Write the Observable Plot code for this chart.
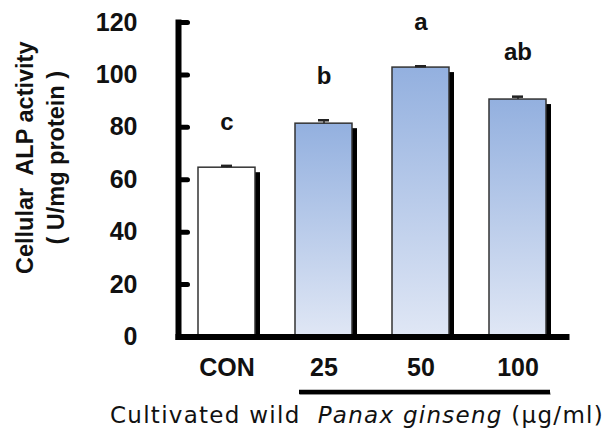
<!DOCTYPE html>
<html><head><meta charset="utf-8">
<script src="https://cdn.jsdelivr.net/npm/d3@7"></script>
<script src="https://cdn.jsdelivr.net/npm/@observablehq/plot@0.6"></script>
<style>
body{margin:0;background:#fff;}
#chart{width:609px;height:435px;position:relative;overflow:hidden;}
#chart svg{display:block;}
.cap{position:absolute;left:110px;top:400px;
 font-family:"DejaVu Sans","Noto Sans",sans-serif;font-size:23px;line-height:30px;color:#111;white-space:nowrap;}
</style></head><body><div id="chart"></div>
<script>
const groups = ["CON", "25", "50", "100"];
const means = [64.6, 81.4, 102.8, 90.6];
const errors = [0.7, 1.3, 0.5, 1.1];
const letters = ["c", "b", "a", "ab"];
const yTicks = [0, 20, 40, 60, 80, 100, 120];
const yLabel = "Cellular  ALP activity\n( U/mg protein )";
const captionPlain = "Cultivated wild\u00a0 ";
const captionItalic = "Panax ginseng";
const captionUnit = " (\u03bcg/ml)";

const data = groups.map((g, i) => ({group: g, mean: means[i], err: errors[i], letter: letters[i], top: means[i] + errors[i]}));
const treated = groups.slice(1);
const font = "'Liberation Sans', Arial, sans-serif";
const ink = "#111";

const tickShape = {draw(ctx, l) { ctx.moveTo(0, 0); ctx.lineTo(0, -l); }};

const plot = Plot.plot({
  width: 609, height: 395,
  marginLeft: 178, marginRight: 43, marginTop: 22, marginBottom: 58.5,
  style: {fontFamily: font, fontSize: "25px", fontWeight: "bold", color: ink, background: "white"},
  x: {domain: groups, paddingInner: 0.41, paddingOuter: 0.2, label: null},
  y: {domain: [0, 120], label: null},
  marks: [
    Plot.barY(data, {x: "group", y: "mean", fill: "black", dx: 5, dy: 5, insetBottom: 5}),
    Plot.barY(data, {filter: d => d.group === groups[0], x: "group", y: "mean", fill: "white", stroke: "#333", strokeWidth: 1.5}),
    Plot.barY(data, {filter: d => d.group !== groups[0], x: "group", y: "mean", fill: "url(#alpGrad)", stroke: "#333", strokeWidth: 1.5}),
    Plot.ruleX(data, {x: "group", y1: "mean", y2: "top", stroke: "#222", strokeWidth: 1.5}),
    Plot.tickY(data, {x: "group", y: "top", stroke: "#222", strokeWidth: 2.5, insetLeft: 23, insetRight: 23}),
    Plot.text(data, {x: "group", y: "top", text: "letter", dy: -44, lineAnchor: "middle", fill: ink, fontSize: 24}),
    Plot.axisY({ticks: yTicks, tickSize: 0, tickPadding: 41, label: null, fill: ink}),
    Plot.axisX({tickSize: 0, tickPadding: 21, label: null, fill: ink}),
    Plot.vector(yTicks, {y: d => d, frameAnchor: "left", rotate: 90, length: 9, anchor: "start", shape: tickShape, stroke: "black", strokeWidth: 5}),
    Plot.frame({anchor: "left", stroke: "black", strokeWidth: 6, strokeLinecap: "square"}),
    Plot.frame({anchor: "bottom", stroke: "black", strokeWidth: 6}),
    Plot.ruleY([0], {x1: () => treated[0], x2: () => treated[treated.length - 1], dy: 57, dx: 5, stroke: "#bbb", strokeWidth: 3}),
    Plot.ruleY([0], {x1: () => treated[0], x2: () => treated[treated.length - 1], dy: 55, dx: 4, stroke: "black", strokeWidth: 4.5}),
    Plot.text([yLabel], {frameAnchor: "left", text: d => d, rotate: -90, textAnchor: "middle", dx: -140, dy: -22, lineAnchor: "middle", lineHeight: 1.32, fill: ink, fontSize: 23.5})
  ]
});

const svg = plot.tagName.toLowerCase() === "svg" ? plot : plot.querySelector("svg");
const defs = d3.select(svg).insert("defs", ":first-child");
const grad = defs.append("linearGradient").attr("id", "alpGrad").attr("x1", 0).attr("y1", 0).attr("x2", 0).attr("y2", 1);
grad.append("stop").attr("offset", 0).attr("stop-color", "#93b0df");
grad.append("stop").attr("offset", 1).attr("stop-color", "#e0e7f5");

const chart = document.getElementById("chart");
chart.appendChild(plot);
const cap = document.createElement("div");
cap.className = "cap";
cap.appendChild(document.createTextNode(captionPlain));
const it = document.createElement("i");
it.textContent = captionItalic;
cap.appendChild(it);
cap.appendChild(document.createTextNode(captionUnit));
chart.appendChild(cap);
// fit caption to the same width as in the reference
const targetWidth = 494;
const w = cap.getBoundingClientRect().width;
const n = (captionPlain + captionItalic + captionUnit).length;
if (w < targetWidth) cap.style.letterSpacing = ((targetWidth - w) / n) + "px";
else if (w > targetWidth) cap.style.fontSize = (23 * targetWidth / w) + "px";
</script></body></html>
